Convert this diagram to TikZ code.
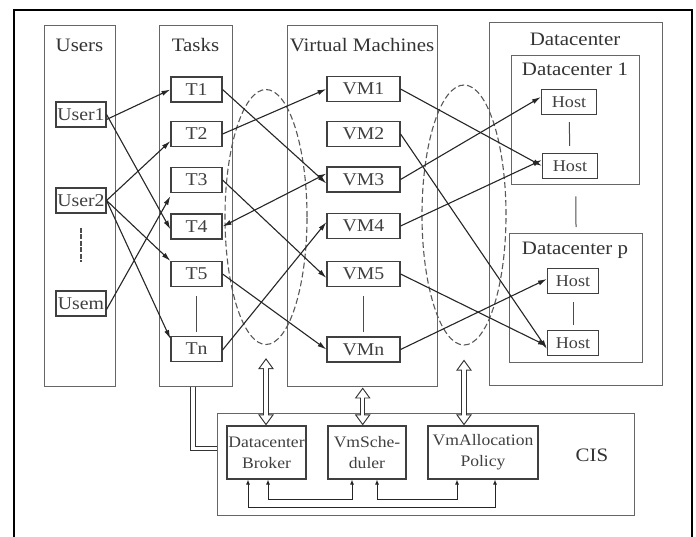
\documentclass[tikz,border=0pt]{standalone}
\usepackage{fontspec}
\setmainfont{Liberation Serif}[FakeStretch=1.1]
\usetikzlibrary{shapes.geometric, arrows.meta, positioning, calc}

\begin{document}
\begin{tikzpicture}[
	x=1pt, y=-1pt,
	col/.style = {rectangle, draw=black!60, line width=1.4pt, anchor=north west, inner sep=0pt},
	coltitle/.style = {font=\fontsize{19}{21}\selectfont, text=black!80},
	box/.style = {rectangle, draw=black!75, line width=1.1pt, minimum width=51pt, minimum height=25pt, inner sep=0pt, font=\fontsize{18}{20}\selectfont, text=black!75},
	hostbox/.style = {box, minimum width=55pt, font=\fontsize{16.5}{18}\selectfont},
	cisbox/.style = {box, minimum height=53pt, align=center, font=\fontsize{16}{21}\selectfont},
	ring/.style = {ellipse, draw=black!65, dash pattern=on 6pt off 3pt, line width=1.1pt, inner sep=0pt},
	link/.style = {draw=black!70, line width=1pt, shorten <=7pt, shorten >=7pt},
	line/.style = {draw=black!85, line width=1.1pt, -{Latex[length=9pt, width=5pt]}},
	twoway/.style = {draw=black!85, line width=1.1pt, {Latex[length=9pt, width=5pt]}-{Latex[length=9pt, width=5pt]}},
	small/.style = {draw=black!85, line width=1pt, {Latex[length=5pt, width=4pt]}-{Latex[length=5pt, width=4pt]}},
	pipe/.style = {draw=black!80, double=white, double distance=3.5pt, line width=1pt},
	wide/.style = {draw=black!80, line width=5.5pt, {Triangle[length=11pt, width=15pt]}-{Triangle[length=11pt, width=15pt]},
		postaction={draw=white, line width=3.5pt, shorten <=1.9pt, shorten >=1.9pt, {Triangle[length=8.2pt, width=11.2pt]}-{Triangle[length=8.2pt, width=11.2pt]}}}
	]
	\fill [white] (0,0) rectangle (696,536);
	\useasboundingbox (0,0) rectangle (696,536);
	\draw [line width=2.5pt] (14,545) |- (692,10) -- (692,545);
	
	% Columns
	\node [col, minimum width=71pt, minimum height=361pt] (users) at (44,25) {};
	\node [col, minimum width=73pt, minimum height=361pt] (tasks) at (159,25) {};
	\node [col, minimum width=150pt, minimum height=361pt] (vms) at (287,25) {};
	\node [col, minimum width=173pt, minimum height=363pt] (dc) at (489,22) {};
	\node [col, minimum width=128pt, minimum height=129pt] (dc1) at (511,55) {};
	\node [col, minimum width=133pt, minimum height=129pt] (dcp) at (509,233) {};
	\node [col, minimum width=417pt, minimum height=102pt] (cis) at (217,413) {};
	
	\node [coltitle] (userstitle) at (79.5,45) {Users};
	\node [coltitle] (taskstitle) at (195.5,45) {Tasks};
	\node [coltitle] (vmstitle) at (362,45) {Virtual Machines};
	\node [coltitle] (dctitle) at (575,39) {Datacenter};
	\node [coltitle] (dc1title) at (575,69) {Datacenter 1};
	\node [coltitle] (dcptitle) at (575,250) {Datacenter p};
	\node [coltitle] (cistitle) at (592,455) {CIS};
	
	% Dashed rings
	\node [ring, minimum width=82pt, minimum height=255pt] (ringvm) at (266,217) {};
	\node [ring, minimum width=84pt, minimum height=260pt] (ringhost) at (464,215) {};
	
	% Users
	\node [box, minimum width=50pt] (user1) at (81,114.5) {User1};
	\node [box, minimum width=50pt] (user2) at (81,200.5) {User2};
	\node [box, minimum width=50pt] (userm) at (81,303.5) {Usem};
	
	% Tasks
	\node [box] (t1) at (196.5,89.5) {T1};
	\node [box] (t2) at (196.5,134) {T2};
	\node [box] (t3) at (196.5,180) {T3};
	\node [box] (t4) at (196.5,226.5) {T4};
	\node [box] (t5) at (196.5,274) {T5};
	\node [box] (tn) at (196.5,349) {Tn};
	
	% Virtual machines
	\node [box, minimum width=73pt] (vm1) at (363.5,89) {VM1};
	\node [box, minimum width=73pt] (vm2) at (363.5,134) {VM2};
	\node [box, minimum width=73pt] (vm3) at (363.5,179.5) {VM3};
	\node [box, minimum width=73pt] (vm4) at (363.5,226) {VM4};
	\node [box, minimum width=73pt] (vm5) at (363.5,274) {VM5};
	\node [box, minimum width=73pt] (vmn) at (363.5,349.5) {VMn};
	
	% Hosts
	\node [hostbox] (hosta) at (569,102) {Host};
	\node [hostbox] (hostb) at (570,166) {Host};
	\node [hostbox, minimum width=51pt] (hostc) at (573,281) {Host};
	\node [hostbox, minimum width=51pt] (hostd) at (573,343) {Host};
	
	% CIS
	\node [cisbox, minimum width=79pt] (broker) at (266.5,452.5) {Datacenter\\Broker};
	\node [cisbox, minimum width=78pt] (sched) at (367,452.5) {VmSche-\\duler};
	\node [cisbox, minimum width=110pt] (alloc) at (483,452.5) {VmAllocation\\Policy};
	
	% Ellipsis lines
	\draw [link, line width=2pt, dash pattern=on 5pt off 1.5pt, shorten <=14pt, shorten >=28pt] (user2) -- (userm);
	\draw [link, shorten <=9pt, shorten >=4pt] (t5) -- (tn);
	\draw [link, shorten <=9pt, shorten >=4pt] (vm5) -- (vmn);
	\draw [link] (hosta) -- (hostb);
	\draw [link, shorten <=11pt, shorten >=6pt] (dc1) -- (dcp);
	\draw [link, shorten <=8pt, shorten >=5pt] (hostc) -- (hostd);
	
	% Users to tasks
	\path [line] ([yshift=-5pt]user1.east) -- (t1.west);
	\path [line] (user1.east) -- ([yshift=-3pt]t4.west);
	\path [line] (user2.east) -- ([yshift=-7pt]t2.west);
	\path [line] (user2.east) -- (t5.north west);
	\path [line] (user2.east) -- ([yshift=-3pt]tn.north west);
	\path [line] ([yshift=-6pt]userm.east) -- ([yshift=-3pt]t3.south west);
	
	% Tasks to virtual machines
	\path [line] (t1.east) -- ([yshift=-4pt]vm3.west);
	\path [line] (t2.east) -- (vm1.west);
	\path [line] (t3.east) -- ([yshift=-4pt]vm5.west);
	\path [twoway] (t4.east) -- ([yshift=6pt]vm3.west);
	\path [line] (t5.east) -- (vmn.west);
	\path [line] ([yshift=-1pt]tn.east) -- ([yshift=4pt]vm4.west);
	
	% Virtual machines to hosts
	\path [line] (vm1.east) -- (hostb.west);
	\path [line] (vm2.east) -- ([yshift=-6pt]hostd.west);
	\path [line] (vm3.east) -- ([yshift=5pt]hosta.west);
	\path [line] (vm4.east) -- ([yshift=6pt]hostb.west);
	\path [line] (vm5.east) -- ([yshift=-3pt]hostd.west);
	\path [line] (vmn.east) -- ([yshift=2pt]hostc.west);
	
	% Links to CIS
	\path [wide] ([yshift=-13pt]ringvm.south) -- (ringvm.south |- broker.north);
	\path [wide] (vms.south) -- (vms.south |- sched.north);
	\path [wide] ([yshift=-14pt]ringhost.south) -- (ringhost.south |- alloc.north);
	\path [pipe] ([xshift=-3pt]tasks.south) |- ([yshift=4pt]cis.west |- broker.west);
	
	% Inside CIS
	\path [small] ([xshift=-18.5pt]broker.south) -- ++(0,28) -| ([xshift=12pt]alloc.south);
	\path [small] ([xshift=1.5pt]broker.south) -- ++(0,20) -| ([xshift=-15pt]sched.south);
	\path [small] ([xshift=10pt]sched.south) -- ++(0,20) -| ([xshift=-26pt]alloc.south);
\end{tikzpicture}
\end{document}
